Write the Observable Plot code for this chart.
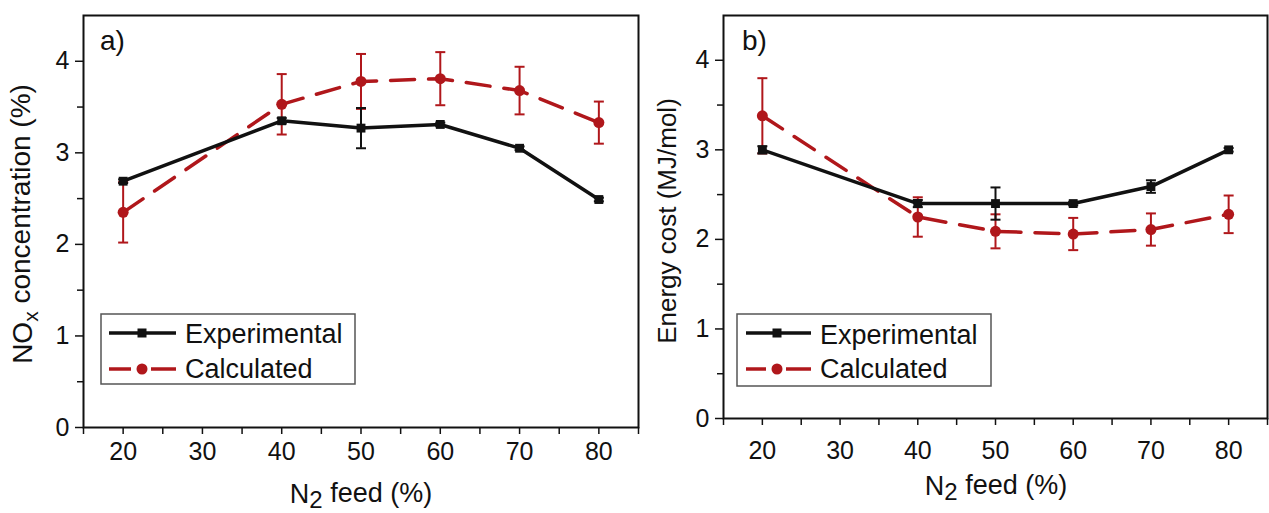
<!DOCTYPE html>
<html><head><meta charset="utf-8">
<script src="https://cdn.jsdelivr.net/npm/d3@7"></script>
<script src="https://cdn.jsdelivr.net/npm/@observablehq/plot@0.6"></script>
<style>
body{margin:0;background:#fff;}
#wrap{position:relative;width:1269px;height:513px;overflow:hidden;background:#fff;}
#wrap > svg{position:absolute;top:0;}
</style></head><body><div id="wrap"></div>
<script>
// ---- data ----
const feed = [20, 40, 50, 60, 70, 80];
const noxExp = [2.69, 3.35, 3.27, 3.31, 3.05, 2.49];
const noxExpErr = [0.02, 0.03, 0.22, 0.02, 0.02, 0.02];
const noxCalc = [2.35, 3.53, 3.78, 3.81, 3.68, 3.33];
const noxCalcErr = [0.33, 0.33, 0.30, 0.29, 0.26, 0.23];
const energyExp = [3.00, 2.40, 2.40, 2.40, 2.59, 3.00];
const energyExpErr = [0.04, 0.04, 0.18, 0.02, 0.07, 0.02];
const energyCalc = [3.38, 2.25, 2.09, 2.06, 2.11, 2.28];
const energyCalcErr = [0.42, 0.22, 0.19, 0.18, 0.18, 0.21];
const xMajorTicks = [20, 30, 40, 50, 60, 70, 80];
const xMinorTicks = [15, 25, 35, 45, 55, 65, 75, 85];
const yMajorTicks = [0, 1, 2, 3, 4];
const yMinorTicks = [0.5, 1.5, 2.5, 3.5];
const seriesNames = ["Experimental", "Calculated"];
const panelTags = ["a)", "b)"];

const RED = "#b0171b";
const INK = "#111";
const FONT = "'Liberation Sans', Arial, sans-serif";

const capSymbol = {
  draw(ctx, size) {
    const w = Math.sqrt(size / Math.PI);
    ctx.moveTo(-w, 0); ctx.lineTo(w, 0);
  }
};

function rows(vals, errs) {
  return feed.map((x, i) => ({x, y: vals[i], lo: vals[i] - errs[i], hi: vals[i] + errs[i]}));
}

function panel({width, marginBottom, tickPad, exp, expErr, calc, calcErr}) {
  const E = rows(exp, expErr), C = rows(calc, calcErr);
  return Plot.plot({
    width, height: 513,
    marginLeft: 83, marginRight: 2, marginTop: 15, marginBottom,
    style: {fontFamily: FONT, fontSize: "25px", color: INK, background: "transparent", overflow: "visible"},
    x: {domain: [15, 85]},
    y: {domain: [0, 4.5]},
    marks: [
      Plot.axisX({ticks: xMajorTicks, tickSize: 7, tickPadding: tickPad, tickFormat: d => String(d), label: null, strokeWidth: 1.5, fontSize: 25}),
      Plot.axisX({ticks: xMinorTicks, tickSize: 7, text: null, label: null, strokeWidth: 1.5}),
      Plot.axisY({ticks: yMajorTicks, tickSize: 8, tickPadding: 6, tickFormat: d => String(d), label: null, strokeWidth: 1.5, fontSize: 25}),
      Plot.axisY({ticks: yMinorTicks, tickSize: 6, text: null, label: null, strokeWidth: 1.5}),
      // calculated (dashed red)
      Plot.line(C, {x: "x", y: "y", stroke: RED, strokeWidth: 3.5, strokeDasharray: "24,14"}),
      Plot.ruleX(C, {x: "x", y1: "lo", y2: "hi", stroke: RED, strokeWidth: 2}),
      Plot.dot(C, {x: "x", y: "lo", symbol: capSymbol, r: 5, stroke: RED, strokeWidth: 2}),
      Plot.dot(C, {x: "x", y: "hi", symbol: capSymbol, r: 5, stroke: RED, strokeWidth: 2}),
      Plot.dot(C, {x: "x", y: "y", r: 5.5, fill: RED}),
      // experimental (solid black)
      Plot.line(E, {x: "x", y: "y", stroke: INK, strokeWidth: 3.5}),
      Plot.ruleX(E, {x: "x", y1: "lo", y2: "hi", stroke: INK, strokeWidth: 2}),
      Plot.dot(E, {x: "x", y: "lo", symbol: capSymbol, r: 5, stroke: INK, strokeWidth: 2}),
      Plot.dot(E, {x: "x", y: "hi", symbol: capSymbol, r: 5, stroke: INK, strokeWidth: 2}),
      Plot.dot(E, {x: "x", y: "y", symbol: "square", r: 5, fill: INK}),
      Plot.frame({stroke: INK, strokeWidth: 2})
    ]
  });
}

function legend(svg, {bx, by, bw, bh, lx1, lx2, mx, tx, r1, r2, b1, b2}) {
  const g = svg.append("g").attr("font-family", FONT).attr("font-size", 27).attr("fill", INK)
    .attr("text-anchor", "start");
  g.append("rect").attr("x", bx).attr("y", by).attr("width", bw).attr("height", bh)
    .attr("fill", "white").attr("stroke", "#555").attr("stroke-width", 1.5);
  g.append("line").attr("x1", lx1).attr("x2", lx2).attr("y1", r1).attr("y2", r1)
    .attr("stroke", INK).attr("stroke-width", 3.5);
  g.append("rect").attr("x", mx - 4.5).attr("y", r1 - 4.5).attr("width", 9).attr("height", 9).attr("fill", INK);
  g.append("text").attr("x", tx).attr("y", b1).attr("text-anchor", "start").text(seriesNames[0]);
  g.append("line").attr("x1", lx1).attr("x2", mx - 11).attr("y1", r2).attr("y2", r2)
    .attr("stroke", RED).attr("stroke-width", 3.5);
  g.append("line").attr("x1", mx + 9).attr("x2", lx2).attr("y1", r2).attr("y2", r2)
    .attr("stroke", RED).attr("stroke-width", 3.5);
  g.append("circle").attr("cx", mx).attr("cy", r2).attr("r", 5.5).attr("fill", RED);
  g.append("text").attr("x", tx).attr("y", b2).attr("text-anchor", "start").text(seriesNames[1]);
}

function xTitle(svg, cx, baseline) {
  const t = svg.append("text").attr("x", cx).attr("y", baseline).attr("text-anchor", "middle")
    .attr("font-family", FONT).attr("font-size", 27).attr("fill", INK);
  t.append("tspan").text("N");
  t.append("tspan").attr("dy", "0.22em").attr("font-size", 24).text("2");
  t.append("tspan").attr("dy", "-0.22em").text(" feed (%)");
}

const wrap = document.getElementById("wrap");

// ---- panel a ----
const svgA = panel({width: 640, marginBottom: 86, tickPad: 8, exp: noxExp, expErr: noxExpErr, calc: noxCalc, calcErr: noxCalcErr});
svgA.style.left = "0px";
wrap.appendChild(svgA);
const A = d3.select(svgA);
A.append("text").attr("x", 100).attr("y", 50).attr("text-anchor", "start").attr("font-family", FONT).attr("font-size", 28).attr("fill", INK).text(panelTags[0]);
xTitle(A, 361, 503);
{
  const t = A.append("text").attr("transform", "translate(32,224) rotate(-90)").attr("text-anchor", "middle")
    .attr("font-family", FONT).attr("font-size", 28).attr("fill", INK);
  t.append("tspan").text("NO");
  t.append("tspan").attr("dy", "0.3em").attr("font-size", 21).text("x");
  t.append("tspan").attr("dy", "-0.3em").text(" concentration (%)");
}
legend(A, {bx: 101, by: 314, bw: 254, bh: 70, lx1: 109, lx2: 176, mx: 142, tx: 185, r1: 333, r2: 369, b1: 343, b2: 378});

// ---- panel b ----
const svgB = panel({width: 629, marginBottom: 95, tickPad: 16, exp: energyExp, expErr: energyExpErr, calc: energyCalc, calcErr: energyCalcErr});
svgB.style.left = "640px";
wrap.appendChild(svgB);
const B = d3.select(svgB);
B.append("text").attr("x", 102).attr("y", 50).attr("text-anchor", "start").attr("font-family", FONT).attr("font-size", 28).attr("fill", INK).text(panelTags[1]);
xTitle(B, 356, 495);
B.append("text").attr("transform", "translate(36,221) rotate(-90)").attr("text-anchor", "middle")
  .attr("font-family", FONT).attr("font-size", 26).attr("fill", INK).text("Energy cost (MJ/mol)");
legend(B, {bx: 97, by: 314, bw: 254, bh: 72, lx1: 106, lx2: 171, mx: 137, tx: 180, r1: 333, r2: 369, b1: 344, b2: 378});
</script></body></html>
